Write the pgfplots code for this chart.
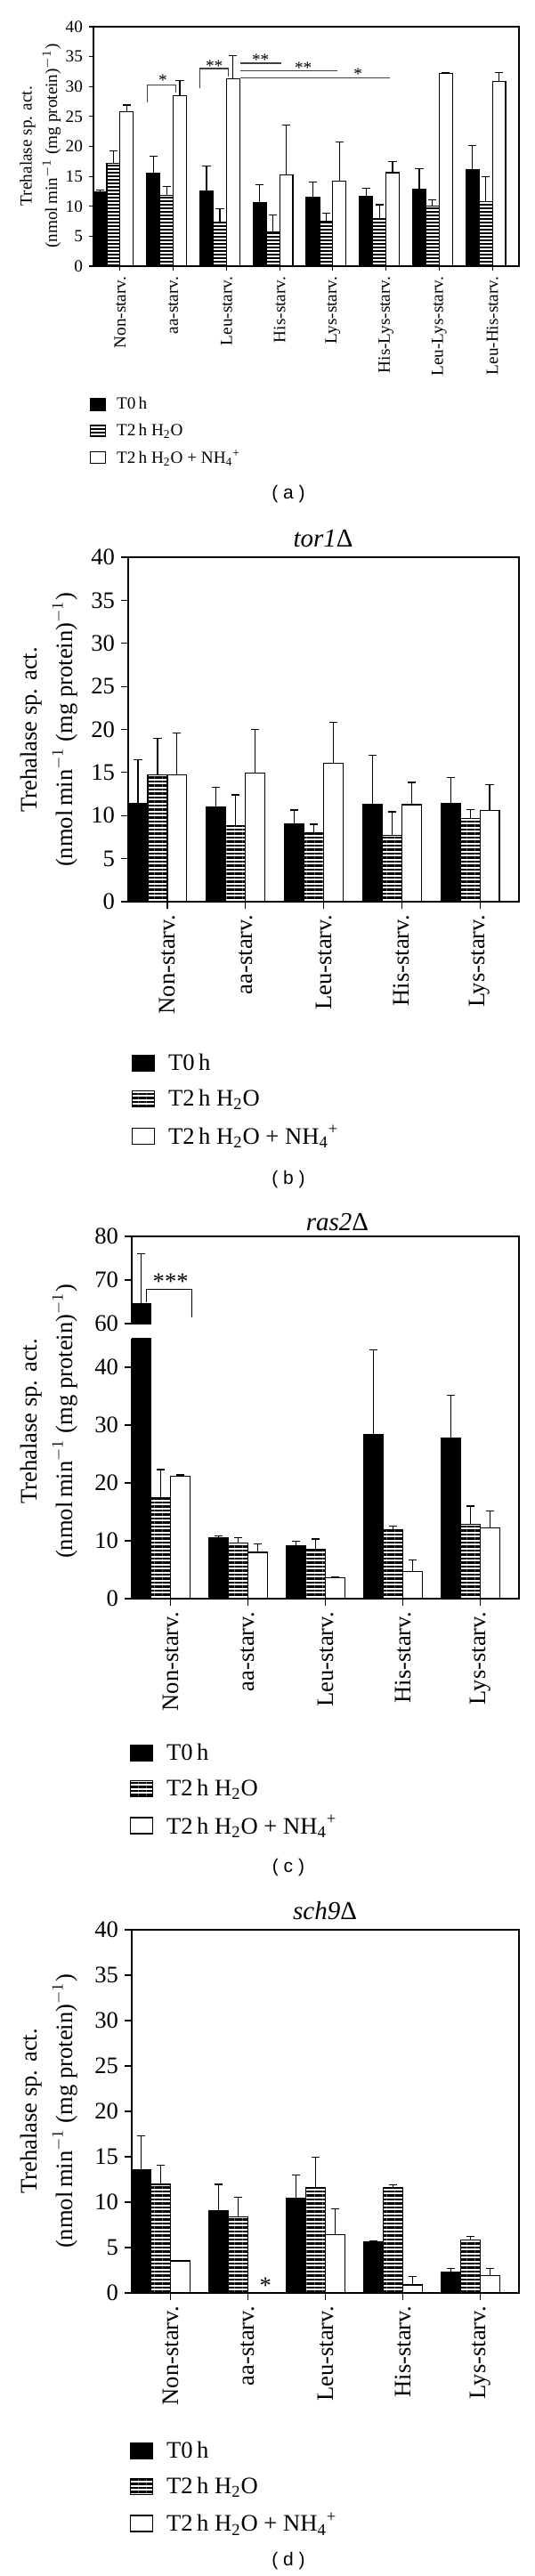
\documentclass[border=0pt]{standalone}
\usepackage{fontspec}
\setmainfont{Liberation Serif}
\newfontfamily\capfont{Liberation Sans}
\usepackage{pgfplots}
\pgfplotsset{compat=1.18}
\usepackage{pgfplotstable}
\usetikzlibrary{patterns.meta}

\newcommand\fA{\fontsize{9.6}{11.5}\selectfont}
\newcommand\fB{\fontsize{13.3}{16}\selectfont}
\newcommand\fT{\fontsize{14.5}{17}\selectfont}
\newcommand\fC{\capfont\fontsize{10.5}{12}\selectfont}

% panel (a): wild type, 8 conditions
\pgfplotstableread{
g t0    e0   h2o   e1   nh4   e2
0 12.35 0.40 17.20 2.10 25.80 1.10
1 15.50 2.90 11.85 1.40 28.50 2.50
2 12.60 4.10  7.40 2.20 31.30 3.90
3 10.60 3.05  5.70 2.85 15.25 8.35
4 11.50 2.55  7.50 1.30 14.20 6.60
5 11.60 1.45  7.90 2.35 15.60 1.85
6 12.90 3.40 10.00 1.05 32.20 0.10
7 16.10 4.10 10.80 4.15 30.80 1.60
}\dataA
% panel (b): tor1
\pgfplotstableread{
g t0    e0   h2o   e1   nh4   e2
0 11.40 5.05 14.70 4.30 14.70 4.90
1 10.95 2.35  8.85 3.55 14.97 5.03
2  9.05 1.60  7.95 1.05 16.07 4.78
3 11.30 5.67  7.70 2.74 11.27 2.59
4 11.44 2.97  9.70 1.00 10.60 2.98
}\dataB
% panel (c): ras2
\pgfplotstableread{
g t0    e0    h2o   e1   nh4   e2
0 64.50 11.50 17.40 4.90 21.20 0.20
1 10.60  0.20  9.60 1.00  8.00 1.50
2  9.10  0.80  8.45 1.85  3.60 0.10
3 28.30 14.70 11.96 0.54  4.70 1.95
4 27.80  7.35 12.80 3.20 12.20 3.00
}\dataC
% panel (d): sch9
\pgfplotstableread{
g t0    e0   h2o   e1   nh4  e2
0 13.60 3.70 11.97 2.10 3.54 0.00
1  9.08 2.89  8.36 2.20 0.00 0.00
2 10.43 2.57 11.57 3.41 6.39 2.86
3  5.67 0.07 11.57 0.33 0.89 0.91
4  2.30 0.42  5.80 0.43 1.90 0.82
}\dataD

\pgfplotsset{
  common/.style={
    scale only axis, ybar, bar width=0.25, bar shift=0pt,
    axis line style={line width=0.7pt},
    tick style={line width=0.6pt, black},
    tick align=outside, xtick pos=left, ytick pos=left,
    /pgf/number format/assume math mode=true,
    xticklabel style={rotate=90, anchor=east},
    error bars/y dir=plus, error bars/y explicit,
    error bars/error bar style={line width=0.6pt, black},
    error bars/error mark options={rotate=90, mark size=2.3pt, line width=0.6pt, black},
    legend cell align=left,
    legend style={draw=none, fill=none, inner sep=0pt, outer sep=0pt,
      nodes={inner sep=0pt, anchor=west}},
    every axis plot/.append style={line width=0.6pt},
  },
  legA/.style={
    legend image code/.code={\draw[##1] (0pt,-3.25pt) rectangle (8.5pt,3.25pt);},
    legend style={font=\fA, row sep=6.6pt, column sep=6pt},
  },
  legB/.style={
    legend image code/.code={\draw[##1] (0pt,-4.5pt) rectangle (12.5pt,4.5pt);},
    legend style={font=\fB, row sep=9.3pt, column sep=7.5pt},
  },
}

\begin{document}
\begin{tikzpicture}
\path[use as bounding box] (0,0) rectangle (300pt,-1447pt);

% ---------------- (a) ----------------
\begin{axis}[common, legA,
  at={(52.5pt,-15pt)}, anchor=north west,
  width=239pt, height=134.5pt,
  xmin=-0.5, xmax=7.5, ymin=0, ymax=40,
  ytick={0,5,...,40}, xtick={0,1,...,7},
  xticklabels={Non-starv.,aa-starv.,Leu-starv.,His-starv.,Lys-starv.,His-Lys-starv.,Leu-Lys-starv.,Leu-His-starv.},
  major tick length=2.5pt,
  tick label style={font=\fA},
  legend style={at={(axis description cs:-0.0084,-0.548)}, anchor=north west},
]
\addplot[draw=black, fill=black] table[x expr=\thisrow{g}-0.375, y=t0, y error=e0]{\dataA};
\addlegendentry{T0\,h}
\addplot[draw=black, fill=white, pattern={Lines[angle=0,distance=2pt,line width=0.9pt]}] table[x expr=\thisrow{g}-0.125, y=h2o, y error=e1]{\dataA};
\addlegendentry{T2\,h H\textsubscript{2}O}
\addplot[draw=black, fill=white] table[x expr=\thisrow{g}+0.125, y=nh4, y error=e2]{\dataA};
\addlegendentry{T2\,h H\textsubscript{2}O + NH\textsubscript{4}\textsuperscript{+}}
% significance marks
\draw[black!75, line width=0.6pt] (axis cs:0.517,27.3) -- (axis cs:0.517,30.3) -- (axis cs:1.044,30.3) -- (axis cs:1.044,29.0);
\node[font=\fA, anchor=base, yshift=-4.5pt] at (axis cs:0.806,31.4) {*};
\draw[black!75, line width=0.6pt] (axis cs:1.501,29.7) -- (axis cs:1.501,33.0) -- (axis cs:2.029,33.0) -- (axis cs:2.029,31.6);
\node[font=\fA, anchor=base, yshift=-4.5pt] at (axis cs:1.77,33.8) {**};
\draw[black!75, line width=0.6pt] (axis cs:2.254,33.9) -- (axis cs:3.039,33.9);
\node[font=\fA, anchor=base, yshift=-4.5pt] at (axis cs:2.64,34.8) {**};
\draw[black!75, line width=0.6pt] (axis cs:2.254,32.6) -- (axis cs:4.088,32.6);
\node[font=\fA, anchor=base, yshift=-4.5pt] at (axis cs:3.445,33.5) {**};
\draw[black!75, line width=0.6pt] (axis cs:2.254,31.5) -- (axis cs:5.066,31.5);
\node[font=\fA, anchor=base, yshift=-4.5pt] at (axis cs:4.474,32.5) {*};
\end{axis}
\node[font=\fA, rotate=90] at (15.5pt,-82pt) {Trehalase sp. act.};
\node[font=\fA, rotate=90] at (29pt,-82pt) {(nmol\,min$^{-1}$ (mg protein)$^{-1}$)};
\node[font=\fC] at (162pt,-277.5pt) {( a )};

% ---------------- (b) ----------------
\begin{axis}[common, legB,
  at={(72pt,-313pt)}, anchor=north west,
  width=219.5pt, height=193.5pt,
  xmin=-0.5, xmax=4.5, ymin=0, ymax=40,
  ytick={0,5,...,40}, xtick={0,1,...,4},
  xticklabels={Non-starv.,aa-starv.,Leu-starv.,His-starv.,Lys-starv.},
  major tick length=4pt,
  tick label style={font=\fB},
  legend style={at={(axis description cs:0.009,-0.442)}, anchor=north west},
]
\addplot[draw=black, fill=black] table[x expr=\thisrow{g}-0.375, y=t0, y error=e0]{\dataB};
\addlegendentry{T0\,h}
\addplot[draw=black, fill=white, pattern={Lines[angle=0,distance=2.25pt,line width=1.1pt]}] table[x expr=\thisrow{g}-0.125, y=h2o, y error=e1]{\dataB};
\addlegendentry{T2\,h H\textsubscript{2}O}
\addplot[draw=black, fill=white] table[x expr=\thisrow{g}+0.125, y=nh4, y error=e2]{\dataB};
\addlegendentry{T2\,h H\textsubscript{2}O + NH\textsubscript{4}\textsuperscript{+}}
\end{axis}
\node[font=\fT] at (181.5pt,-302.5pt) {\itshape tor1\upshape Δ};
\node[font=\fB, rotate=90] at (17.5pt,-410pt) {Trehalase sp. act.};
\node[font=\fB, rotate=90] at (36.5pt,-410pt) {(nmol\,min$^{-1}$ (mg protein)$^{-1}$)};
\node[font=\fC] at (162pt,-662.5pt) {( b )};

% ---------------- (c) upper segment ----------------
\begin{axis}[common,
  at={(74pt,-694.5pt)}, anchor=north west,
  width=217.5pt, height=49pt,
  xmin=-0.5, xmax=4.5, ymin=60, ymax=80,
  ytick={60,70,80}, xtick=\empty,
  major tick length=4pt,
  tick label style={font=\fB},
  axis line style={draw=none},
  clip mode=individual,
]
\addplot[draw=black, fill=black, skip coords between index={1}{5}] table[x expr=\thisrow{g}-0.375, y=t0, y error=e0]{\dataC};
\draw[line width=0.7pt] (rel axis cs:0,0) -- (rel axis cs:0,1) -- (rel axis cs:1,1) -- (rel axis cs:1,0) -- ++(0pt,-8.25pt);
\draw[line width=0.6pt] (axis cs:-0.309,64.8) -- (axis cs:-0.309,67.8) -- (axis cs:0.278,67.8) -- (axis cs:0.278,61.4);
\node[font=\fB, anchor=base, yshift=-6.1pt] at (axis cs:0.002,70.3) {***};
\end{axis}
% ---------------- (c) lower segment ----------------
\begin{axis}[common, legB,
  at={(74pt,-751.75pt)}, anchor=north west,
  width=217.5pt, height=146.25pt,
  xmin=-0.5, xmax=4.5, ymin=0, ymax=45,
  ytick={0,10,...,40}, xtick={0,1,...,4},
  xticklabels={Non-starv.,aa-starv.,Leu-starv.,His-starv.,Lys-starv.},
  major tick length=4pt,
  tick label style={font=\fB},
  axis line style={draw=none},
  clip mode=individual,
  legend style={at={(axis description cs:-0.0046,-0.557)}, anchor=north west},
]
\addplot[draw=black, fill=black] table[x expr=\thisrow{g}-0.375, y=t0, y error=e0]{\dataC};
\addlegendentry{T0\,h}
\addplot[draw=black, fill=white, pattern={Lines[angle=0,distance=2.25pt,line width=1.1pt]}] table[x expr=\thisrow{g}-0.125, y=h2o, y error=e1]{\dataC};
\addlegendentry{T2\,h H\textsubscript{2}O}
\addplot[draw=black, fill=white] table[x expr=\thisrow{g}+0.125, y=nh4, y error=e2]{\dataC};
\addlegendentry{T2\,h H\textsubscript{2}O + NH\textsubscript{4}\textsuperscript{+}}
\draw[line width=0.7pt] (rel axis cs:0,1) -- (rel axis cs:0,0) -- (rel axis cs:1,0) -- (rel axis cs:1,1);
\end{axis}
\node[font=\fT] at (189.5pt,-686.5pt) {\itshape ras2\upshape Δ};
\node[font=\fB, rotate=90] at (17.5pt,-798.5pt) {Trehalase sp. act.};
\node[font=\fB, rotate=90] at (36.5pt,-798.5pt) {(nmol\,min$^{-1}$ (mg protein)$^{-1}$)};
\node[font=\fC] at (162pt,-1049pt) {( c )};

% ---------------- (d) ----------------
\begin{axis}[common, legB,
  at={(74pt,-1084pt)}, anchor=north west,
  width=217.5pt, height=204pt,
  xmin=-0.5, xmax=4.5, ymin=0, ymax=40,
  ytick={0,5,...,40}, xtick={0,1,...,4},
  xticklabels={Non-starv.,aa-starv.,Leu-starv.,His-starv.,Lys-starv.},
  major tick length=4pt,
  tick label style={font=\fB},
  legend style={at={(axis description cs:-0.0046,-0.409)}, anchor=north west},
]
\addplot[draw=black, fill=black] table[x expr=\thisrow{g}-0.375, y=t0, y error=e0]{\dataD};
\addlegendentry{T0\,h}
\addplot[draw=black, fill=white, pattern={Lines[angle=0,distance=2.25pt,line width=1.1pt]}] table[x expr=\thisrow{g}-0.125, y=h2o, y error=e1]{\dataD};
\addlegendentry{T2\,h H\textsubscript{2}O}
\addplot[draw=black, fill=white] table[x expr=\thisrow{g}+0.125, y=nh4, y error=e2]{\dataD};
\addlegendentry{T2\,h H\textsubscript{2}O + NH\textsubscript{4}\textsuperscript{+}}
\node[font=\fB, anchor=base, yshift=-6.1pt] at (axis cs:1.226,1.15) {*};
\end{axis}
\node[font=\fT] at (182.5pt,-1073.5pt) {\itshape sch9\upshape Δ};
\node[font=\fB, rotate=90] at (17.5pt,-1186pt) {Trehalase sp. act.};
\node[font=\fB, rotate=90] at (36.5pt,-1186pt) {(nmol\,min$^{-1}$ (mg protein)$^{-1}$)};
\node[font=\fC] at (162pt,-1438.5pt) {( d )};
\end{tikzpicture}
\end{document}
